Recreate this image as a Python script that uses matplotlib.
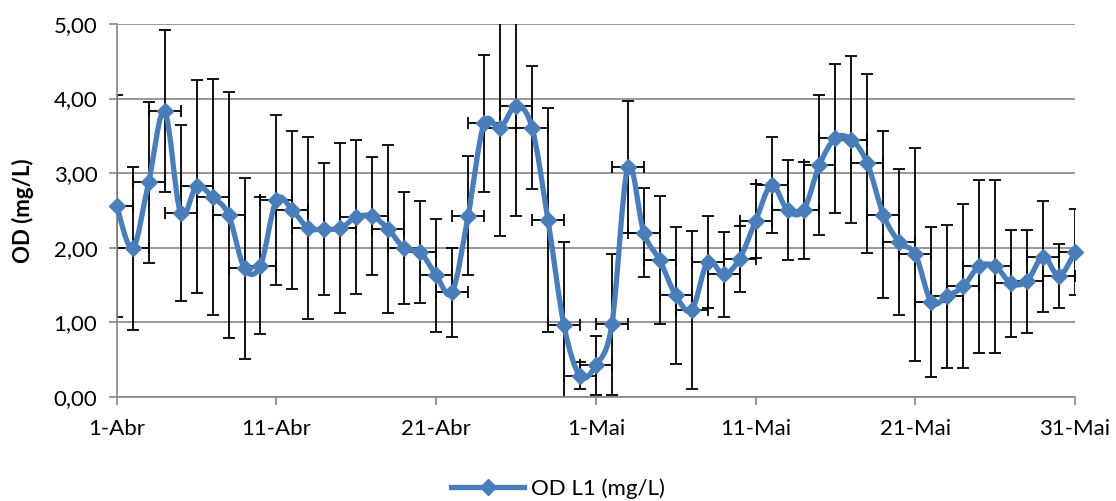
import numpy as np
import matplotlib
matplotlib.use("Agg")
import matplotlib.pyplot as plt
from matplotlib.path import Path
from matplotlib.patches import PathPatch
from matplotlib.lines import Line2D

plt.rcParams['font.family'] = ['Lato', 'DejaVu Sans']

# dias desde 1-Abr (0 = 1-Abr, 30 = 1-Mai, 60 = 31-Mai)
dias = np.arange(61)
od = [2.56, 1.99, 2.88, 3.83, 2.46, 2.82, 2.68, 2.44, 1.72, 1.76,
      2.64, 2.50, 2.26, 2.25, 2.26, 2.41, 2.42, 2.25, 1.99, 1.94,
      1.63, 1.40, 2.43, 3.67, 3.60, 3.90, 3.61, 2.37, 0.96, 0.28,
      0.42, 0.97, 3.08, 2.20, 1.83, 1.36, 1.16, 1.81, 1.64, 1.85,
      2.36, 2.84, 2.50, 2.50, 3.11, 3.47, 3.45, 3.13, 2.44, 2.07,
      1.91, 1.27, 1.35, 1.48, 1.75, 1.75, 1.52, 1.55, 1.88, 1.62,
      1.94]
desvio = [1.49, 1.09, 1.08, 1.09, 1.18, 1.43, 1.58, 1.65, 1.21, 0.92,
          1.14, 1.06, 1.22, 0.89, 1.14, 1.03, 0.79, 1.13, 0.75, 0.68,
          0.76, 0.60, 0.80, 0.92, 1.45, 1.47, 0.83, 1.50, 1.11, 0.18,
          0.40, 0.95, 0.89, 0.60, 0.86, 0.92, 1.06, 0.62, 0.57, 0.44,
          0.50, 0.64, 0.67, 0.65, 0.94, 1.00, 1.12, 1.20, 1.12, 0.98,
          1.43, 1.00, 0.96, 1.10, 1.16, 1.16, 0.72, 0.69, 0.74, 0.43,
          0.58]
erro_x = 1  # dias
ticks_dias = [0, 10, 20, 30, 40, 50, 60]
ticks_txt = ["1-Abr", "11-Abr", "21-Abr", "1-Mai", "11-Mai", "21-Mai", "31-Mai"]

azul = "#4A7EBB"
cinza = "#868686"


def linha_suave(x, y):
    # curva tipo excel: bezier cubica pelos pontos (catmull-rom)
    x = np.asarray(x, float)
    y = np.asarray(y, float)
    verts = [(x[0], y[0])]
    codes = [Path.MOVETO]
    n = len(x)
    for i in range(n - 1):
        x0, y0 = (x[i - 1], y[i - 1]) if i > 0 else (x[i], y[i])
        x3, y3 = (x[i + 2], y[i + 2]) if i + 2 < n else (x[i + 1], y[i + 1])
        c1 = (x[i] + (x[i + 1] - x0) / 6, y[i] + (y[i + 1] - y0) / 6)
        c2 = (x[i + 1] - (x3 - x[i]) / 6, y[i + 1] - (y3 - y[i]) / 6)
        verts += [c1, c2, (x[i + 1], y[i + 1])]
        codes += [Path.CURVE4] * 3
    return Path(verts, codes)


fig = plt.figure(figsize=(11.16, 5.01), dpi=100)
ax = fig.add_axes([0.1046, 0.2082, 0.8587, 0.7439])

ax.errorbar(dias, od, yerr=desvio, xerr=erro_x, fmt='none', ecolor='black',
            elinewidth=1.3, capsize=4.3, capthick=1.3, zorder=2)
ax.add_patch(PathPatch(linha_suave(dias, od), facecolor='none', edgecolor=azul,
                       lw=3.8, zorder=3, clip_on=False, capstyle='round', joinstyle='round'))
ax.plot(dias, od, 'D', color=azul, markersize=8.5, zorder=4, clip_on=False)

ax.set_xlim(0, 60)
ax.set_ylim(0, 5)
ax.set_yticks(np.arange(0, 5.01, 1))
ax.set_yticklabels([("%.2f" % v).replace(".", ",") for v in np.arange(0, 5.01, 1)])
ax.set_xticks(ticks_dias)
ax.set_xticklabels(ticks_txt)
ax.tick_params(labelsize=16, colors=cinza, labelcolor='black', length=6, width=1.2)
ax.tick_params(axis='y', pad=8)
ax.tick_params(axis='x', pad=10)
ax.grid(axis='y', color=cinza, lw=1.2)
ax.set_axisbelow(True)
for s in ['top', 'right']:
    ax.spines[s].set_visible(False)
for s in ['left', 'bottom']:
    ax.spines[s].set_color(cinza)
    ax.spines[s].set_linewidth(1.2)
ax.set_ylabel("OD (mg/L)", fontsize=16, fontweight='bold', labelpad=14)

leg_h = Line2D([], [], color=azul, lw=3.8, marker='D', markersize=8.5)
fig.legend([leg_h], ["OD L1 (mg/L)"], loc='lower center', bbox_to_anchor=(0.5, -0.036),
           frameon=False, fontsize=16, handlelength=3.3, handletextpad=0.3)

fig.savefig("out.png", dpi=100)
